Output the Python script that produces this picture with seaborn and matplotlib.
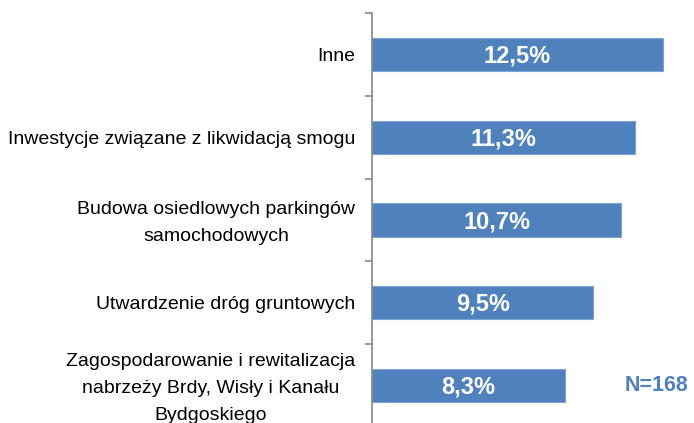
import matplotlib
matplotlib.use("Agg")
import matplotlib.pyplot as plt
import matplotlib.transforms as mtransforms
import seaborn as sns
import pandas as pd

# data
categories = [
    "Inne",
    "Inwestycje związane z likwidacją smogu",
    "Budowa osiedlowych parkingów\nsamochodowych",
    "Utwardzenie dróg gruntowych",
    "Zagospodarowanie i rewitalizacja\nnabrzeży Brdy, Wisły i Kanału\nBydgoskiego",
]
values = [12.5, 11.3, 10.7, 9.5, 8.3]
value_labels = ["12,5%", "11,3%", "10,7%", "9,5%", "8,3%"]
note = "N=168"

df = pd.DataFrame({"kategoria": categories, "procent": values})

sns.set_style("white")
plt.rcParams["font.family"] = ["Liberation Sans", "DejaVu Sans"]

fig = plt.figure(figsize=(6.94, 4.23), dpi=100)
ax = fig.add_axes([372 / 694, 1 - 427 / 423, 1 - 372 / 694, 414 / 423])

sns.barplot(data=df, x="procent", y="kategoria", order=categories,
            color="#4F81BD", saturation=1, width=0.4,
            edgecolor="#7FA3D3", linewidth=0.8, ax=ax)

ax.set_xlim(0, (694 - 372) / 23.28)
ax.set_ylim(len(categories) - 0.5, -0.5)

# labels inside bars
for i, (v, lab) in enumerate(zip(values, value_labels)):
    ax.text(v / 2, i + 0.02, lab, ha="center", va="center", color="white",
            fontsize=17, fontweight="bold")

ax.text(657 / 694, 1 - 385 / 423, note, transform=fig.transFigure,
        ha="center", va="center", color="#4F81BD", fontsize=15.5, fontweight="bold")

# axis styling
for s in ["top", "right", "bottom"]:
    ax.spines[s].set_visible(False)
ax.spines["left"].set_color("#868686")
ax.spines["left"].set_linewidth(1.2)
ax.set_xticks([])
ax.set_xlabel("")
ax.set_ylabel("")
ax.set_yticks(range(len(categories)))
ax.set_yticklabels(categories, fontsize=14, multialignment="center", linespacing=1.75)
ax.tick_params(axis="y", which="major", length=0, pad=12, colors="black")
ax.set_yticks([i - 0.5 for i in range(len(categories) + 1)], minor=True)
ax.tick_params(axis="y", which="minor", length=5, width=1.2, color="#868686", left=True)

# multi-line labels sit a bit higher in the reference
shift = mtransforms.ScaledTranslation(0, 4 / 100, fig.dpi_scale_trans)
for lab in ax.get_yticklabels():
    if "\n" in lab.get_text():
        lab.set_transform(lab.get_transform() + shift)

fig.savefig("out.png", dpi=100)
